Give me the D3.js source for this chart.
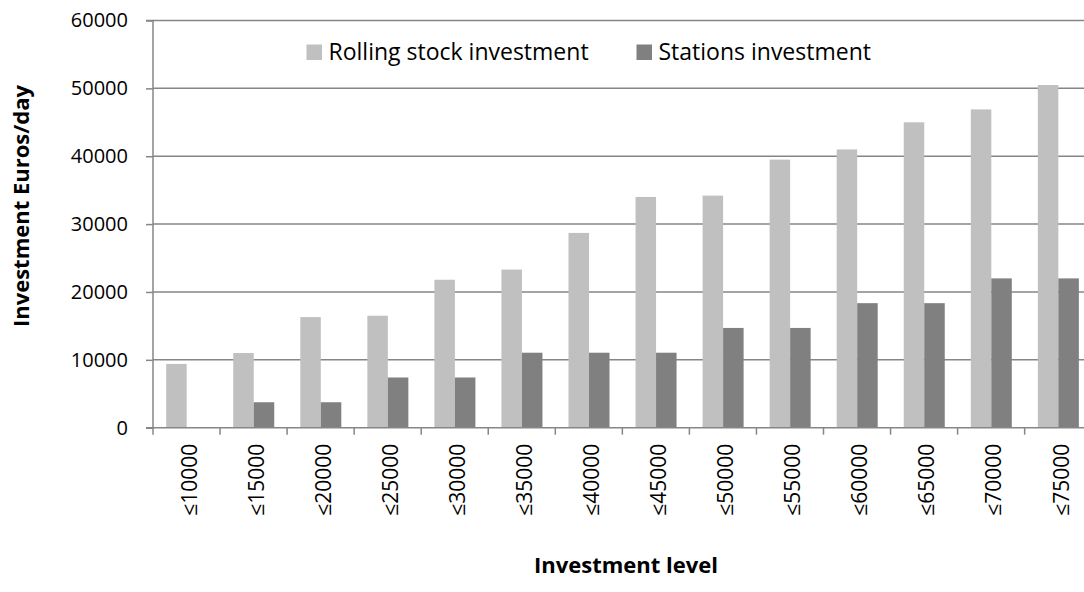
<!DOCTYPE html>
<html>
<head>
<meta charset="utf-8">
<script src="https://cdn.jsdelivr.net/npm/d3@7/dist/d3.min.js"></script>
<style>
  html, body { margin: 0; padding: 0; background: #fff; }
  svg { display: block; font-family: "Open Sans", sans-serif; }
</style>
</head>
<body>
<svg id="chart" width="1084" height="592"></svg>
<script>
// Investment levels (categories)
const categories = ["≤10000", "≤15000", "≤20000", "≤25000", "≤30000", "≤35000", "≤40000",
                    "≤45000", "≤50000", "≤55000", "≤60000", "≤65000", "≤70000", "≤75000"];
// Euros per day
const rollingStock = [9400, 11000, 16300, 16500, 21800, 23300, 28700,
                      34000, 34200, 39500, 41000, 45000, 46900, 50500];
const stations = [0, 3750, 3750, 7400, 7400, 11050, 11050,
                  11050, 14700, 14700, 18350, 18350, 22000, 22000];
const seriesNames = ["Rolling stock investment", "Stations investment"];
const seriesColors = ["#c0c0c0", "#808080"];
const yTicks = [0, 10000, 20000, 30000, 40000, 50000, 60000];

const svg = d3.select("#chart");
const plotLeft = 153, plotTop = 20.5, plotBottom = 427.7, step = 67.05;
const plotRight = plotLeft + step * categories.length;

const x = d3.scaleBand().domain(categories).range([plotLeft, plotRight]).padding(0);
const xs = d3.scaleBand().domain([0, 1]).range([13.2, 54.2]).padding(0);
const y = d3.scaleLinear().domain([0, 60000]).range([plotBottom, plotTop]);

// Horizontal gridlines
svg.append("g")
  .selectAll("line")
  .data(yTicks.filter(d => d > 0))
  .join("line")
  .attr("x1", plotLeft).attr("x2", plotRight)
  .attr("y1", d => y(d)).attr("y2", d => y(d))
  .attr("stroke", "#868686").attr("stroke-width", 1.5);

// Bars
const series = [rollingStock, stations];
const groups = svg.append("g")
  .selectAll("g")
  .data(categories)
  .join("g")
  .attr("transform", d => `translate(${x(d)},0)`);

groups.selectAll("rect")
  .data((d, i) => series.map((s, k) => ({ k, v: s[i] })))
  .join("rect")
  .attr("x", d => xs(d.k))
  .attr("width", xs.bandwidth())
  .attr("y", d => y(d.v))
  .attr("height", d => y(0) - y(d.v))
  .attr("fill", d => seriesColors[d.k]);

// Y axis
const yAxis = d3.axisLeft(y).tickValues(yTicks).tickSize(7).tickPadding(18).tickFormat(d3.format("d"));
const gy = svg.append("g").attr("transform", `translate(${plotLeft},0)`).call(yAxis);
gy.select(".domain").attr("stroke", "#868686").attr("stroke-width", 1.5)
  .attr("d", `M-7,${plotTop}H0V${plotBottom}H-7`);
gy.selectAll(".tick line").attr("stroke", "#868686").attr("stroke-width", 1.5);
gy.selectAll(".tick text").attr("font-size", 20).attr("fill", "#000")
  .attr("font-family", "'Open Sans', sans-serif");

// X axis line and tick marks at category boundaries
svg.append("line")
  .attr("x1", plotLeft).attr("x2", plotRight)
  .attr("y1", plotBottom).attr("y2", plotBottom)
  .attr("stroke", "#868686").attr("stroke-width", 1.5);
svg.append("g")
  .selectAll("line")
  .data(d3.range(categories.length + 1))
  .join("line")
  .attr("x1", i => plotLeft + i * step).attr("x2", i => plotLeft + i * step)
  .attr("y1", plotBottom).attr("y2", plotBottom + 7)
  .attr("stroke", "#868686").attr("stroke-width", 1.5);

// Rotated category labels
svg.append("g")
  .selectAll("text")
  .data(categories)
  .join("text")
  .attr("transform", d => `translate(${x(d) + x.bandwidth() / 2 + 3},${plotBottom + 16}) rotate(-90)`)
  .attr("text-anchor", "end")
  .attr("dy", "0.35em")
  .attr("font-size", 21)
  .attr("fill", "#000")
  .text(d => d);

// Axis titles
svg.append("text")
  .attr("x", 626).attr("y", 573)
  .attr("text-anchor", "middle")
  .attr("font-size", 22).attr("font-weight", "bold")
  .text("Investment level");
svg.append("text")
  .attr("transform", "translate(29,206) rotate(-90)")
  .attr("text-anchor", "middle")
  .attr("font-size", 22).attr("font-weight", "bold")
  .text("Investment Euros/day");

// Legend
const legendX = [306.5, 636.5];
const legend = svg.append("g")
  .selectAll("g")
  .data(seriesNames)
  .join("g")
  .attr("transform", (d, i) => `translate(${legendX[i]},44.5)`);
legend.append("rect")
  .attr("width", 15.5).attr("height", 15.5)
  .attr("fill", (d, i) => seriesColors[i]);
legend.append("text")
  .attr("x", 22).attr("y", 15)
  .attr("font-size", 23)
  .attr("fill", "#000")
  .text(d => d);
</script>
</body>
</html>
